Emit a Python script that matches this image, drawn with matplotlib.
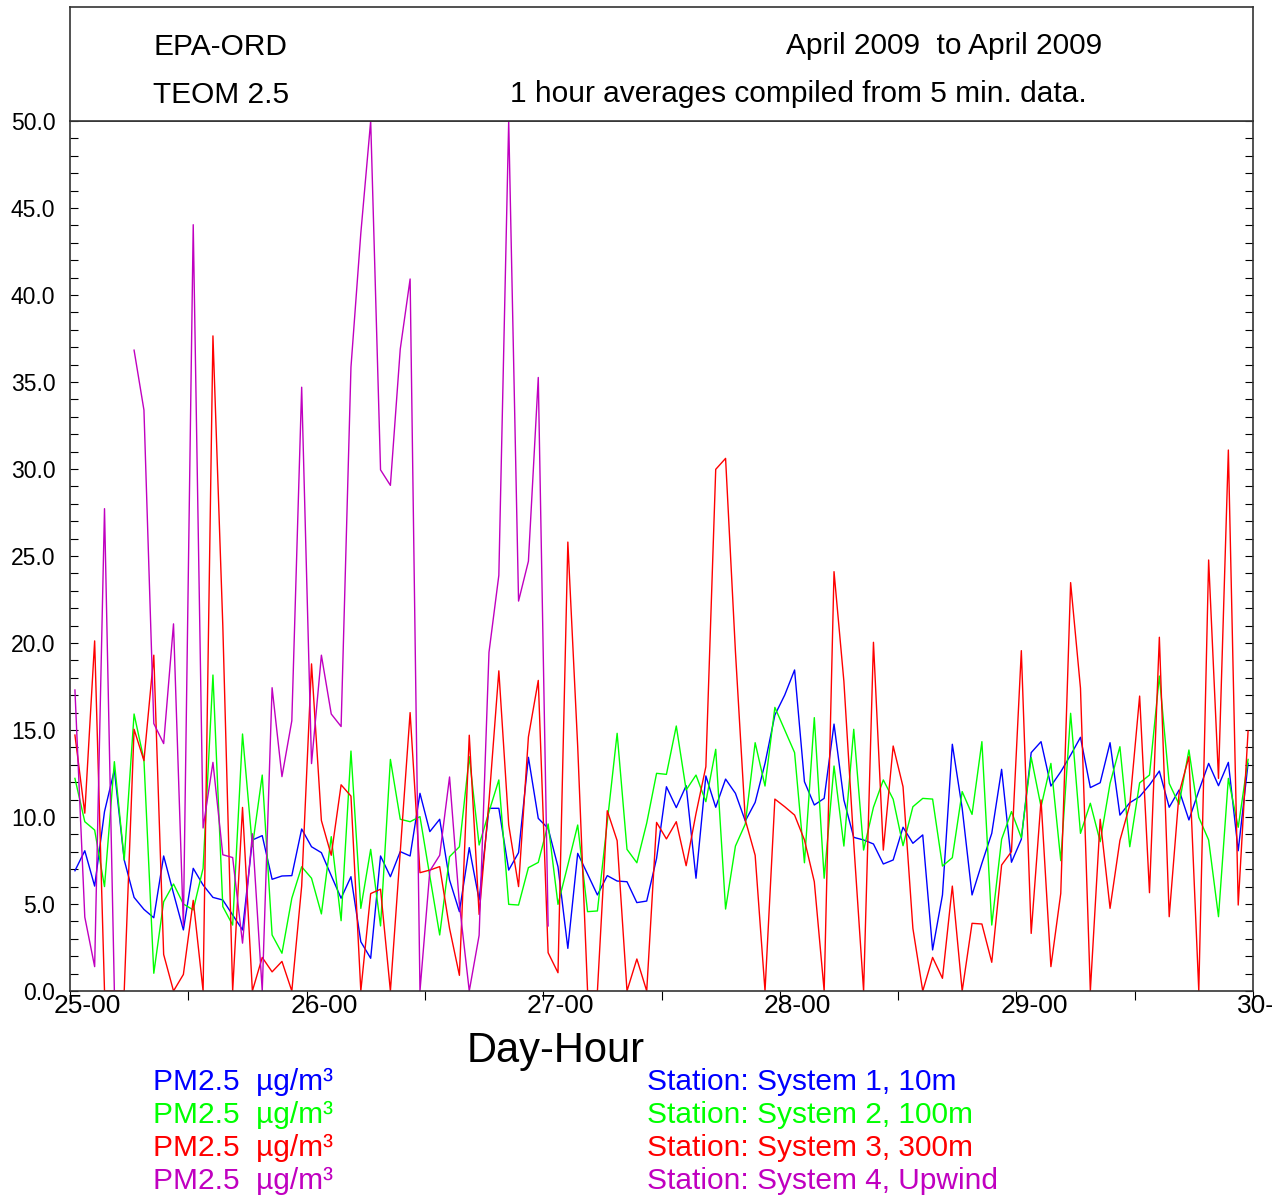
import matplotlib
matplotlib.use("Agg")
import matplotlib.pyplot as plt
import numpy as np
from matplotlib.ticker import MultipleLocator, FormatStrFormatter

plt.rcParams['font.family'] = ['Liberation Sans', 'DejaVu Sans']

# hourly PM2.5 values, 25-00 .. 29-23 (plotted at mid-hour)
sys1_10m = [6.91, 8.06, 6.03, 10.31, 12.7, 7.53, 5.38, 4.69, 4.21, 7.76,
            5.61, 3.51, 7.05, 6.09, 5.38, 5.23, 4.37, 3.51, 8.68, 8.93,
            6.42, 6.61, 6.63, 9.31, 8.29, 7.95, 6.63, 5.33, 6.57, 2.83,
            1.88, 7.76, 6.57, 8.01, 7.76, 11.36, 9.16, 9.87, 6.38, 4.56,
            8.24, 5.23, 10.5, 10.5, 6.95, 7.95, 13.43, 9.92, 9.35, 7.14,
            2.45, 7.91, 6.72, 5.52, 6.63, 6.32, 6.28, 5.08, 5.17, 7.62,
            11.74, 10.54, 11.8, 6.48, 12.36, 10.56, 12.18, 11.36, 9.77, 10.84,
            13.08, 15.86, 17.01, 18.45, 12.03, 10.69, 11.07, 15.34, 10.98, 8.83,
            8.68, 8.45, 7.30, 7.53, 9.41, 8.49, 8.97, 2.36, 5.52, 14.18,
            10.5, 5.52, 7.34, 9.06, 12.74, 7.40, 8.72, 13.7, 14.33, 11.78,
            12.6, 13.56, 14.58, 11.69, 11.97, 14.27, 10.11, 10.82, 11.17, 11.84,
            12.64, 10.56, 11.55, 9.83, 11.5, 13.08, 11.8, 13.14, 8.06, 13.08]

sys2_100m = [12.22, 9.73, 9.25, 6.0, 13.18, 7.53, 15.92, 13.28, 1.02, 5.13,
             6.15, 5.0, 4.66, 7.05, 18.16, 4.85, 3.79, 14.77, 8.29, 12.41,
             3.22, 2.17, 5.33, 7.14, 6.48, 4.43, 8.87, 4.04, 13.79, 4.75,
             8.14, 3.74, 13.31, 9.87, 9.73, 10.02, 6.6, 3.22, 7.72, 8.29,
             13.47, 8.39, 10.3, 12.13, 4.98, 4.94, 7.09, 7.39, 9.6, 4.98,
             7.24, 9.54, 4.56, 4.6, 9.71, 14.81, 8.14, 7.37, 9.65, 12.51,
             12.45, 15.23, 11.55, 12.41, 10.88, 13.89, 4.71, 8.33, 9.6, 14.27,
             11.78, 16.3, 15.0, 13.7, 7.37, 15.71, 6.48, 12.93, 8.33, 15.04,
             8.10, 10.56, 12.13, 11.02, 8.35, 10.59, 11.07, 11.03, 7.18, 7.66,
             11.46, 10.15, 14.33, 3.79, 8.72, 10.31, 8.81, 13.43, 10.59, 13.08,
             7.49, 15.96, 9.06, 10.79, 8.58, 11.93, 14.04, 8.29, 11.96, 12.41,
             18.1, 11.93, 10.73, 13.85, 9.98, 8.68, 4.27, 12.22, 9.41, 13.31]

sys3_300m = [14.71, 10.22, 20.12, 0, 0, 0, 15.04, 13.24, 19.3, 2.1,
             0, 0.95, 5.21, 0, 37.65, 21.0, 0, 10.55, 0, 1.93,
             1.1, 1.7, 0, 6.03, 18.8, 9.8, 7.8, 11.85, 11.2, 0,
             5.6, 5.85, 0, 8.0, 16.0, 6.8, 6.95, 7.15, 3.6, 0.9,
             14.7, 4.4, 10.9, 18.4, 9.55, 6.0, 14.6, 17.85, 2.2, 1.05,
             25.8, 14.04, 0, 0, 10.36, 8.64, 0, 1.84, 0, 9.69,
             8.74, 9.73, 7.2, 10.2, 12.89, 29.98, 30.61, 19.5, 9.83, 7.8,
             0, 11.03, 10.59, 10.11, 8.68, 6.28, 0, 24.1, 17.8, 8.5,
             0, 20.04, 8.1, 14.08, 11.74, 3.6, 0, 1.93, 0.73, 6.03,
             0, 3.89, 3.85, 1.65, 7.24, 8.01, 19.56, 3.31, 10.98, 1.4,
             5.61, 23.47, 17.4, 0, 9.87, 4.75, 8.65, 10.69, 16.95, 5.65,
             20.33, 4.27, 11.36, 13.47, 0, 24.77, 12.22, 31.09, 4.94, 14.94]

nan = np.nan
sys4_upwind = [17.3, 4.25, 1.4, 27.72, 0, nan, 36.83, 33.39, 15.37, 14.22,
               21.1, 3.74, 44.04, 9.37, 13.14, 7.83, 7.67, 2.75, 9.04, 0,
               17.43, 12.32, 15.53, 34.7, 13.07, 19.3, 15.92, 15.2, 35.85, 43.55,
               50.0, 29.95, 29.06, 36.89, 40.92, 0, 6.9, 7.8, 12.3, 5.0,
               0, 3.2, 19.46, 23.89, 50.0, 22.41, 24.7, 35.26, 3.74] + [nan] * 71

series = [sys1_10m, sys2_100m, sys3_300m, sys4_upwind]
colors = ['#0000ff', '#00ff00', '#ff0000', '#c000c0']
stations = ['Station: System 1, 10m', 'Station: System 2, 100m',
            'Station: System 3, 300m', 'Station: System 4, Upwind']
day_labels = ['25-00', '26-00', '27-00', '28-00', '29-00', '30-00']

hours = np.arange(120) + 0.5

W, H = 1272, 1198
fig = plt.figure(figsize=(W / 100, H / 100), dpi=100)

# main plot
ax = fig.add_axes([70 / W, 207 / H, 1183 / W, 870 / H])
for vals, c in zip(series, colors):
    ax.plot(hours, vals, color=c, lw=1.0)

ax.set_xlim(0, 120)
ax.set_ylim(0, 50)
ax.yaxis.set_major_locator(MultipleLocator(5))
ax.yaxis.set_minor_locator(MultipleLocator(1))
ax.yaxis.set_major_formatter(FormatStrFormatter('%.1f'))
ax.tick_params(axis='y', which='both', direction='in', left=True, right=True,
               length=5.5, width=0.8, color='black')
ax.tick_params(axis='y', which='major', labelsize=16.5, pad=10.5)
ax.set_xticks(np.arange(0, 121, 12))
ax.set_xticklabels([])
ax.tick_params(axis='x', which='major', direction='out', length=6.5, width=0.8,
               bottom=True, top=False)
for s in ax.spines.values():
    s.set_linewidth(1.2)
    s.set_color('#333333')

# day labels, set a bit right of their ticks
for k, lab in enumerate(day_labels):
    ax.text(k * 24 + 1.78, -0.003, lab, transform=ax.get_xaxis_transform(),
            ha='center', va='top', fontsize=19, clip_on=False)

# header box
hx = fig.add_axes([70 / W, 1077 / H, 1183 / W, 114 / H])
hx.set_xticks([])
hx.set_yticks([])
for s in hx.spines.values():
    s.set_linewidth(1.2)
    s.set_color('#333333')


def ftext(x, y, s, **kw):
    fig.text(x / W, 1 - y / H, s, **kw)


ftext(153, 55, 'EPA-ORD', fontsize=21.5, va='baseline')
ftext(153, 103, 'TEOM 2.5', fontsize=21.5, va='baseline')
ftext(786, 54, 'April 2009  to April 2009', fontsize=21.5, va='baseline')
ftext(510, 102, '1 hour averages compiled from 5 min. data.', fontsize=21.5, va='baseline')

ftext(556, 1062, 'Day-Hour', fontsize=30, ha='center', va='baseline')

for k, c in enumerate(colors):
    yb = 1090 + 33 * k
    ftext(153, yb, 'PM2.5  µg/m³', fontsize=21.5, color=c, va='baseline')
    ftext(647, yb, stations[k], fontsize=21.5, color=c, va='baseline')

fig.savefig('out.png', dpi=100)
